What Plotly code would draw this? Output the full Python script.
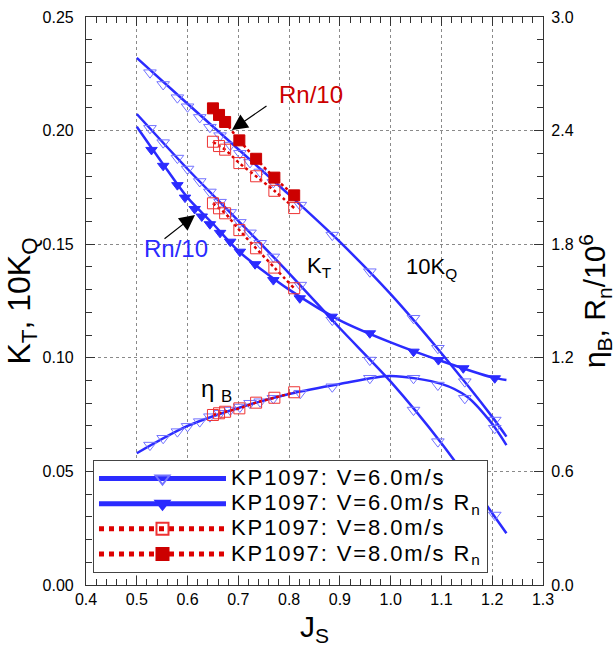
import plotly.graph_objects as go

# ---------------- data ----------------
# fitted curves, V = 6.0 m/s
J_fit = [0.50, 0.60, 0.70, 0.80, 0.90, 1.00, 1.10, 1.20, 1.228]
KQ10_fit = [0.2320, 0.2118, 0.1918, 0.1718, 0.1510, 0.1280, 0.1020, 0.0740, 0.0653]
KT_fit = [0.2073, 0.1831, 0.1603, 0.1372, 0.1130, 0.0895, 0.0624, 0.0316, 0.0228]

J_eta_fit = [0.50, 0.60, 0.70, 0.80, 0.90, 1.00, 1.10, 1.15, 1.20, 1.228]
ETA_fit = [0.696, 0.840, 0.935, 1.009, 1.062, 1.104, 1.062, 0.995, 0.850, 0.739]

J_rn_fit = [0.50, 0.55, 0.60, 0.65, 0.70, 0.75, 0.80, 0.90, 1.00, 1.10, 1.20, 1.228]
KT_rn_fit = [0.2017, 0.1858, 0.1705, 0.1590, 0.1470, 0.1381, 0.1300, 0.1165, 0.1068, 0.0986, 0.0914, 0.0902]

# measured points, V = 6.0 m/s
J6 = [0.526, 0.552, 0.580, 0.600, 0.624, 0.644, 0.664, 0.684, 0.703, 0.723,
      0.743, 0.769, 0.822, 0.885, 0.959, 1.045, 1.093, 1.146, 1.205]
KQ10_6 = [0.2255, 0.2203, 0.2145, 0.2105, 0.2058, 0.2015, 0.1978, 0.1936, 0.1900, 0.1860,
          0.1818, 0.1772, 0.1672, 0.1540, 0.1379, 0.1174, 0.1042, 0.0895, 0.0726]
KT_6 = [0.2010, 0.1947, 0.1879, 0.1831, 0.1776, 0.1730, 0.1685, 0.1640, 0.1596, 0.1550,
        0.1504, 0.1444, 0.1320, 0.1166, 0.0990, 0.0770, 0.0631, 0.0480, 0.0308]
ETA_6 = [0.739, 0.775, 0.810, 0.838, 0.863, 0.889, 0.907, 0.924, 0.940, 0.960,
         0.968, 0.986, 1.013, 1.047, 1.092, 1.092, 1.056, 0.986, 0.828]

# measured points against Rn, V = 6.0 m/s
J6R = [0.529, 0.552, 0.580, 0.595, 0.614, 0.628, 0.644, 0.664, 0.684, 0.703,
       0.733, 0.769, 0.821, 0.884, 0.959, 1.045, 1.094, 1.143, 1.205]
KT_6R = [0.1915, 0.1845, 0.1760, 0.1705, 0.1655, 0.1622, 0.1588, 0.1550, 0.1511, 0.1467,
         0.1412, 0.1342, 0.1262, 0.1181, 0.1108, 0.1027, 0.0990, 0.0954, 0.0910]

# V = 8.0 m/s
J8 = [0.650, 0.662, 0.674, 0.702, 0.735, 0.771, 0.810]
KQ10_8 = [0.1951, 0.1932, 0.1916, 0.1857, 0.1799, 0.1735, 0.1659]
KT_8 = [0.1680, 0.1658, 0.1636, 0.1562, 0.1482, 0.1397, 0.1306]
ETA_8 = [0.898, 0.907, 0.915, 0.933, 0.963, 0.989, 1.018]
KQ10_8R = [0.2098, 0.2069, 0.2038, 0.1957, 0.1876, 0.1793, 0.1715]

# ---------------- styles ----------------
FONT = "Liberation Sans, Arial, sans-serif"
BLUE = "#2b2bff"
BLUE_LT = "#7373ff"
RED = "#dd0000"
RED_LT = "#ee3333"
RED_DK = "#cc0000"

fig = go.Figure()

def fit_line(x, y, yaxis="y"):
    fig.add_trace(go.Scatter(x=x, y=y, mode="lines", yaxis=yaxis, showlegend=False,
                             line=dict(color=BLUE, width=2.5, shape="spline", smoothing=0.8),
                             hoverinfo="skip"))

def pts(x, y, symbol, color, size=10, yaxis="y", lw=1):
    fig.add_trace(go.Scatter(x=x, y=y, mode="markers", yaxis=yaxis, showlegend=False,
                             marker=dict(symbol=symbol, size=size, color=color,
                                         line=dict(color=color, width=lw))))

def red_dotted(x, y, yaxis="y"):
    fig.add_trace(go.Scatter(x=x, y=y, mode="lines", yaxis=yaxis, showlegend=False,
                             line=dict(color=RED, width=2.5, dash="dot", shape="spline"),
                             hoverinfo="skip"))

# blue fitted curves
fit_line(J_fit, KQ10_fit)
fit_line(J_fit, KT_fit)
fit_line(J_rn_fit, KT_rn_fit)
fit_line(J_eta_fit, ETA_fit, yaxis="y2")

# blue measured points
pts(J6, KQ10_6, "triangle-down-open", BLUE_LT, size=11)
pts(J6, KT_6, "triangle-down-open", BLUE_LT, size=11)
pts(J6, ETA_6, "triangle-down-open", BLUE_LT, size=11, yaxis="y2")
pts(J6R, KT_6R, "triangle-down", BLUE, size=10)

# red series, V = 8.0 m/s
red_dotted(J8, KQ10_8)
red_dotted(J8, KT_8)
red_dotted(J8, ETA_8, yaxis="y2")
red_dotted(J8, KQ10_8R)
pts(J8, KQ10_8, "square-open", RED_LT, size=11)
pts(J8, KT_8, "square-open", RED_LT, size=11)
pts(J8, ETA_8, "square-open", RED_LT, size=11, yaxis="y2")
pts(J8, KQ10_8R, "square", RED_DK, size=11)

# legend entries (text rendered larger than the row pitch font)
LEG_SPAN = "<span style='font-size:22px;letter-spacing:1.9px'>{}</span>"
legend_items = [
    ("KP1097: V=6.0m/s", BLUE, "solid", "triangle-down-open", BLUE_LT),
    ("KP1097: V=6.0m/s R<sub>n</sub>", BLUE, "solid", "triangle-down", BLUE),
    ("KP1097: V=8.0m/s", RED, "dot", "square-open", RED_LT),
    ("KP1097: V=8.0m/s R<sub>n</sub>", RED, "dot", "square", RED_DK),
]
for name, lc, dash, sym, mc in legend_items:
    fig.add_trace(go.Scatter(x=[None], y=[None], mode="lines+markers", name=LEG_SPAN.format(name),
                             line=dict(color=lc, width=2.5, dash=dash),
                             marker=dict(symbol=sym, size=11, color=mc, line=dict(color=mc, width=1))))

# ---------------- annotations ----------------
ann = []
# Rn/10 labels with arrows
ann.append(dict(x=0.8425, y=0.2161, text="Rn/10", showarrow=False,
                font=dict(family=FONT, size=24, color=RED_DK)))
ann.append(dict(x=0.6875, y=0.2003, text="", showarrow=True, ax=36, ay=-25,
                arrowhead=2, arrowsize=2.6, arrowwidth=1.2, arrowcolor="black"))
ann.append(dict(x=0.577, y=0.1483, text="Rn/10", showarrow=False,
                font=dict(family=FONT, size=24, color=BLUE)))
ann.append(dict(x=0.6147, y=0.1629, text="", showarrow=True, ax=-32, ay=25,
                arrowhead=2, arrowsize=2.6, arrowwidth=1.2, arrowcolor="black"))
# curve labels
ann.append(dict(x=0.860, y=0.1400, text="K<sub>T</sub>", showarrow=False,
                font=dict(family=FONT, size=22, color="black")))
ann.append(dict(x=1.080, y=0.1395, text="10K<sub>Q</sub>", showarrow=False,
                font=dict(family=FONT, size=22, color="black")))
ann.append(dict(x=0.657, y=0.0855, text="η <sub>B</sub>", showarrow=False,
                font=dict(family=FONT, size=24, color="black")))

axis_common = dict(
    ticks="inside", ticklen=9, tickwidth=1, tickcolor="#333",
    showline=True, linecolor="#333", linewidth=1.2,
    tickfont=dict(family=FONT, size=16, color="black"),
    zeroline=False, automargin=False,
)

fig.update_layout(
    width=616, height=653,
    margin=dict(l=86, r=73, t=17, b=68),
    paper_bgcolor="white", plot_bgcolor="white",
    font=dict(family=FONT, color="black"),
    annotations=ann,
    xaxis=dict(range=[0.4, 1.3], tick0=0.4, dtick=0.1, tickformat=".1f", mirror="ticks",
               showgrid=True, gridcolor="#8a8a8a", griddash="dot", gridwidth=1,
               minor=dict(ticks="inside", ticklen=6, dtick=0.02, tickcolor="#333", showgrid=False),
               ticklabelstandoff=0,
               title=dict(text="J<sub>S</sub>", font=dict(family=FONT, size=30), standoff=8),
               **axis_common),
    yaxis=dict(range=[0, 0.25], tick0=0, dtick=0.05, tickformat=".2f",
               showgrid=True, gridcolor="#8a8a8a", griddash="dot", gridwidth=1,
               minor=dict(ticks="inside", ticklen=6, dtick=0.01, tickcolor="#333", showgrid=False),
               ticklabelstandoff=8,
               title=dict(text="K<sub>T</sub>, 10K<sub>Q</sub>", font=dict(family=FONT, size=32), standoff=2),
               **axis_common),
    yaxis2=dict(range=[0, 3.0], tick0=0, dtick=0.6, tickformat=".1f", overlaying="y", side="right",
                showgrid=False,
                minor=dict(ticks="inside", ticklen=6, dtick=0.12, tickcolor="#333", showgrid=False),
                ticklabelstandoff=4,
                title=dict(text="η<sub>B</sub>, R<sub>n</sub>/10<sup>6</sup>", font=dict(family=FONT, size=30), standoff=6),
                **axis_common),
    legend=dict(x=0.0153, y=0.021, xanchor="left", yanchor="bottom",
                bgcolor="white", bordercolor="#444", borderwidth=1,
                font=dict(family=FONT, size=17, color="black"),
                itemwidth=127, tracegroupgap=0, itemsizing="constant"),
    showlegend=True,
)

fig.write_html("out.html")
